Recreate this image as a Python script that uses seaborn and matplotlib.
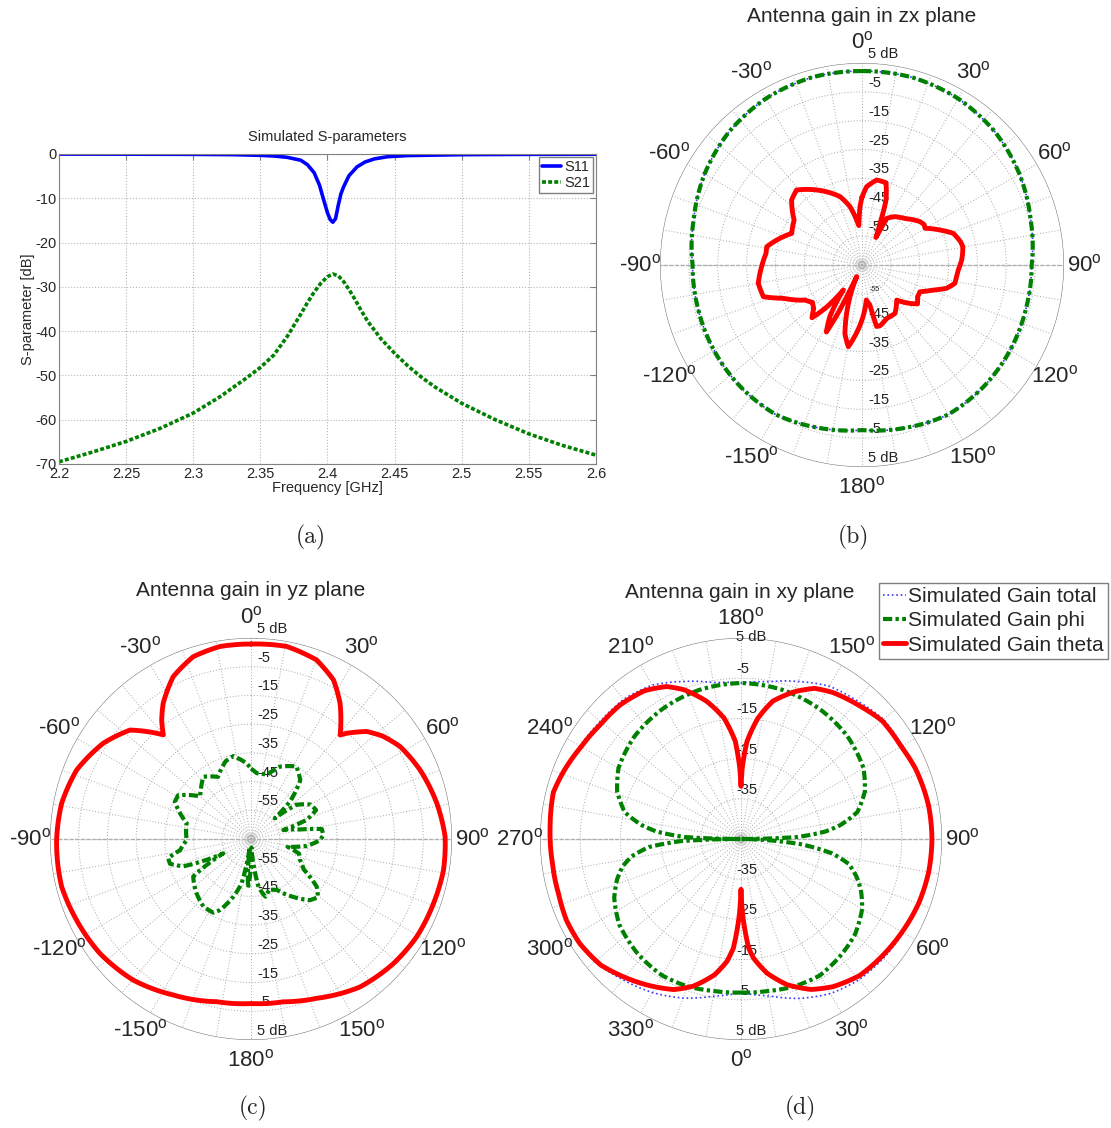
import numpy as np
import pandas as pd
import matplotlib
matplotlib.use("Agg")
import matplotlib.pyplot as plt
import matplotlib.transforms as mtransforms
import seaborn as sns

sns.set_style("white")
plt.rcParams["font.family"] = ["Liberation Sans", "DejaVu Sans"]
plt.rcParams["mathtext.fontset"] = "custom"
plt.rcParams["mathtext.rm"] = "Liberation Sans"
plt.rcParams["mathtext.it"] = "Liberation Sans"
plt.rcParams["mathtext.bf"] = "Liberation Sans:bold"
plt.rcParams["axes.unicode_minus"] = False

# ---------------- (a) S-parameters ----------------
FREQ_S11 = [2.2, 2.25, 2.3, 2.33, 2.35, 2.36, 2.37, 2.38, 2.385, 2.39, 2.394, 2.397,
            2.4, 2.402, 2.404, 2.406, 2.408, 2.41, 2.412, 2.416, 2.422, 2.428, 2.435,
            2.445, 2.46, 2.5, 2.55, 2.6]
S11_DB = [-0.02, -0.04, -0.08, -0.15, -0.3, -0.45, -0.75, -1.4, -2.4, -4.2, -7.0, -10.2,
          -13.3, -14.8, -15.4, -14.6, -11.6, -9.0, -7.4, -4.9, -2.9, -1.8, -1.1,
          -0.6, -0.35, -0.15, -0.08, -0.05]

FREQ_S21 = [2.2, 2.225, 2.25, 2.275, 2.3, 2.32, 2.34, 2.35, 2.36, 2.37, 2.38, 2.385,
            2.39, 2.395, 2.4, 2.404, 2.408, 2.412, 2.416, 2.42, 2.425, 2.43, 2.44,
            2.45, 2.46, 2.47, 2.48, 2.5, 2.525, 2.55, 2.575, 2.6]
S21_DB = [-69.5, -67.3, -64.9, -62.0, -58.5, -54.8, -50.5, -48.2, -45.4, -41.2, -36.2, -33.6,
          -31.2, -29.2, -27.7, -27.1, -27.5, -28.8, -30.6, -32.6, -35.3, -37.8, -41.8,
          -45.0, -47.9, -50.4, -52.6, -56.3, -60.0, -63.2, -65.8, -68.0]

FREQ_TICKS = [2.2, 2.25, 2.3, 2.35, 2.4, 2.45, 2.5, 2.55, 2.6]
FREQ_TICK_LABELS = ["2.2", "2.25", "2.3", "2.35", "2.4", "2.45", "2.5", "2.55", "2.6"]
DB_TICKS = [0, -10, -20, -30, -40, -50, -60, -70]

# ---------------- (b) zx plane (angle clockwise from top) ----------------
ZX_THETA_ANG = [0, 3.4, 9.8, 16.3, 20.3, 23.4, 26.8, 27.9, 34.3, 42.7, 53.2, 57, 59.8,
                65.8, 70.9, 76.7, 79.7, 83.4, 87.1, 93, 97, 101.2, 105.4, 109.3, 114.7,
                120, 125, 130, 135.3, 140, 145.7, 155.2, 163.6, 166.6, 168.7, 173, 180,
                185, 189.5, 194, 199, 204.6, 206.5, 208, 212, 216.7, 220, 223.5, 228,
                233, 238.4, 247, 252.2, 260, 269, 276.9, 280.9, 286.3, 294.2, 303.5,
                312.7, 318.9, 328.8, 342.2, 348.4, 353.2, 355.5, 358, 360]
ZX_THETA_DB = [-41.5, -37.8, -35.1, -35.3, -41.0, -49.3, -54.3, -46.7, -44.7, -43.1, -39.9, -39.3, -39.7,
               -35.4, -31.5, -29.9, -29.5, -29.9, -30.4, -31.6, -32.0, -32.2, -34.6, -38.8, -42.9,
               -42.8, -41.5, -44.5, -47.9, -46.5, -44.7, -44.6, -43.0, -43.1, -50.9, -52.8, -46.0,
               -41.0, -36.3, -40.5, -50.0, -60.6, -46.0, -38.7, -44.0, -54.2, -46.0, -39.8, -42.5,
               -43.5, -41.8, -35.5, -29.1, -28.5, -30.2, -31.5, -31.4, -34.2, -38.3, -36.8,
               -31.8, -30.5, -34.6, -40.1, -44.4, -49.3, -51.3, -44.8, -41.5]

ZX_PHI_ANG = [0, 15, 30, 45, 60, 75, 90, 105, 120, 135, 150, 165, 180,
              195, 210, 225, 240, 255, 270, 285, 300, 315, 330, 345, 360]
ZX_PHI_DB = [2.2, 2.3, 1.6, 0.2, -2.0, -4.5, -6.2, -6.2, -5.8, -5.4, -5.2, -6.6, -7.8,
             -6.6, -5.2, -5.4, -5.8, -6.2, -6.3, -4.6, -2.0, 0.2, 1.6, 2.3, 2.2]
# total gain lies on top of the phi component in this plane
ZX_TOTAL_DB = ZX_PHI_DB

# ---------------- (c) yz plane (angle clockwise from top) ----------------
YZ_THETA_ANG = [0, 10.5, 20.1, 27.4, 33.3, 37, 40.6, 42.2, 47.1, 52, 58.2, 67.8, 79.1,
                89.3, 99.2, 109.4, 120.5, 131.1, 143.6, 157.6, 168.8, 180, 191.9, 206.5,
                219.8, 232.9, 245.1, 255.9, 269.7, 280.7, 291.6, 303, 312, 318.2, 319.9,
                323.1, 327.1, 334.4, 342.4, 350.8, 360]
YZ_THETA_DB = [2.9, 3.2, 1.4, -2.6, -8.5, -13.0, -17.3, -15.3, -10.0, -6.8, -3.9, -1.4, 0.9,
               2.6, 2.9, 2.4, 2.0, 0.9, -1.0, -5.0, -7.2, -7.7, -7.1, -4.3,
               -1.0, 1.0, 2.0, 3.0, 2.7, 2.1, 0.3, -3.7, -8.3, -15.6, -17.6,
               -13.2, -8.7, -2.3, 1.6, 2.9, 2.9]
# total gain coincides with the theta component in this plane
YZ_TOTAL_DB = YZ_THETA_DB

YZ_PHI_ANG = [0, 5, 14, 22, 32, 40, 46, 49, 53, 60, 66, 71, 74.5, 79, 82, 87, 91, 97, 102,
              107, 113, 120, 126, 131, 136, 144, 153, 160, 166, 171, 177, 183.5, 188, 192,
              197, 203.6, 207, 215, 225, 237, 242.6, 248, 253, 257, 261, 269, 284, 290, 296,
              301, 310, 316, 322.6, 332, 342, 348, 356.7, 360]
YZ_PHI_DB = [-40.5, -42.0, -42.0, -37.8, -35.2, -38.3, -46.0, -54.0, -45.2, -41.0, -40.2, -44.5,
             -53.3, -47.6, -40.1, -39.8, -41.0, -45.4, -52.0, -47.5, -46.5, -43.8, -36.7, -34.1,
             -35.4, -40.1, -45.1, -46.4, -44.3, -48.0, -62.0, -48.0, -62.0, -49.2, -44.0, -38.0,
             -36.2, -36.2, -38.2, -41.0, -54.1, -39.6, -35.5, -35.4, -40.0, -42.6, -41.9, -38.7,
             -35.5, -35.4, -41.9, -40.0, -37.7, -40.5, -36.5, -35.5, -38.6, -40.5]

# ---------------- (d) xy plane (0 at bottom, counter-clockwise) ----------------
XY_THETA_ANG = [0, 1, 2, 4, 6, 11, 17.5, 25, 32, 41, 50, 59, 70, 80, 90, 100, 112, 120, 130,
                138, 148, 154, 160, 167, 172, 176.5, 179, 180, 181, 183.3, 188, 194, 201, 206,
                213, 222, 231, 240, 249, 256, 266, 277, 287, 295, 303, 312, 321, 328, 336, 342,
                349, 353.5, 356, 358, 359, 360]
XY_THETA_DB = [-32.4, -27.0, -23.7, -17.8, -15.2, -11.0, -7.0, -3.7, -1.7, 0.0, 0.6, 1.2, 2.0, 2.4,
               2.5, 2.4, 1.8, 1.0, 0.8, -0.6, -2.0, -3.3, -6.0, -9.8, -14.6, -20.7, -27.3, -31.9,
               -27.3, -20.7, -14.6, -9.7, -5.2, -2.8, -1.0, -0.1, 0.1, 0.9, 2.2, 3.1, 2.6, 2.3,
               2.4, 2.9, 2.8, 1.9, -0.3, -2.0, -4.0, -6.5, -10.6, -14.4, -17.8, -23.7, -27.0, -32.4]

XY_PHI_ANG = [0, 10, 20, 30, 40, 50, 60, 67, 72, 77, 81, 85, 88, 90, 92, 95, 98, 103, 111,
              120, 134, 149, 164, 180, 196, 211, 226, 240, 249, 257, 262, 265, 268, 270, 272,
              275, 279, 283, 288, 295, 305, 318, 330, 340, 350, 360]
XY_PHI_DB = [-6.8, -6.6, -6.0, -5.8, -6.8, -8.0, -10.2, -12.6, -14.8, -17.5, -22.0, -30.0, -40.0,
             -48.0, -31.0, -24.0, -20.0, -15.3, -12.0, -9.8, -8.2, -7.2, -6.5, -6.2, -6.5, -7.2,
             -8.2, -9.8, -12.0, -15.3, -20.0, -24.0, -31.0, -48.0, -30.0, -22.0, -17.5, -14.8,
             -12.6, -10.2, -8.0, -6.6, -5.8, -6.0, -6.6, -6.8]

XY_TOTAL_ANG = [0, 10, 20, 30, 40, 50, 60, 70, 80, 90, 100, 110, 120, 130, 140, 150, 160, 170,
                180, 190, 200, 210, 220, 230, 240, 250, 260, 270, 280, 290, 300, 310, 320, 330,
                340, 350, 360]
XY_TOTAL_DB = [-6.8, -5.4, -2.8, -0.6, 0.7, 1.2, 1.6, 2.1, 2.45, 2.5, 2.45, 2.1, 1.35, 1.3, -0.1,
               -1.1, -3.3, -5.3, -6.2, -5.5, -3.3, -0.8, 0.4, 0.6, 1.25, 2.55, 3.0, 2.5, 2.3,
               2.75, 3.1, 2.5, 0.7, -0.9, -2.9, -5.3, -6.8]

W, H = 1111, 1128
GRID_C = "#a8a8a8"
RED, GREEN, BLUE = "#ff0000", "#008000", "#3a3aff"
PHI_STYLE = (0, (2.2, 0.8, 0.8, 0.8))

fig = plt.figure(figsize=(W / 100, H / 100), dpi=100)

# ---------------------------------------------------------------- panel (a)
ax = fig.add_axes([59 / W, 1 - 464 / H, 537 / W, 310 / H])
sns.lineplot(x=FREQ_S11, y=S11_DB, ax=ax, color="#0000ff", lw=2.6, sort=False,
             estimator=None, label="S11")
sns.lineplot(x=FREQ_S21, y=S21_DB, ax=ax, color=GREEN, lw=2.6, sort=False,
             estimator=None, label="S21", linestyle=(0, (1.1, 0.6)))
ax.set_xlim(2.2, 2.6)
ax.set_ylim(-70, 0)
ax.set_xticks(FREQ_TICKS, FREQ_TICK_LABELS)
ax.set_yticks(DB_TICKS)
ax.grid(True, ls=":", color="#b8b8b8", lw=0.8)
for s in ax.spines.values():
    s.set_color("#808080")
    s.set_linewidth(0.8)
ax.tick_params(direction="in", length=4, color="#808080", labelsize=10.5, pad=2,
               top=True, right=True)
ax.set_xlabel("Frequency [GHz]", fontsize=10.5, labelpad=0)
ax.set_ylabel("S-parameter [dB]", fontsize=10.5, labelpad=0)
ax.legend(loc="upper right", fontsize=10.5, handlelength=1.3, handletextpad=0.2,
          borderpad=0.2, labelspacing=0.15, borderaxespad=0.2, fancybox=False,
          edgecolor="#808080", framealpha=1)
fig.text(327 / W, 1 - 137 / H, "Simulated S-parameters", fontsize=10.5,
         ha="center", va="center")


# ---------------------------------------------------------------- polar panels
def polar_axes(cx, cy, R):
    return fig.add_axes([(cx - R) / W, 1 - (cy + R) / H, 2 * R / W, 2 * R / H],
                        projection="polar")


def dress_polar(ax, rmin, zero, direction, labels, tiny_lower=False, lab_dx=6, top_dy=9):
    ax.set_theta_zero_location(zero)
    ax.set_theta_direction(direction)
    ax.grid(False)
    ax.set_xticks([])
    ax.set_yticks([])
    ax.spines["polar"].set_visible(False)
    full = np.linspace(0, 2 * np.pi, 361)
    rings = list(range(rmin + 10, 5, 10))
    for v in rings:
        ax.plot(full, np.full_like(full, v), ls=(0, (1, 2)), color=GRID_C, lw=0.7, zorder=1)
    for f in (0.006, 0.012, 0.018, 0.024):
        ax.plot(full, np.full_like(full, rmin + f * (5 - rmin)), color="#c8c8c8", lw=0.5, zorder=1)
    ax.plot(full, np.full_like(full, 5.0), color="#7a7a7a", lw=0.8, zorder=1)
    for a in range(0, 360, 10):
        ax.plot([np.deg2rad(a)] * 2, [rmin, 5], ls=(0, (1, 2)), color=GRID_C, lw=0.7, zorder=1)
    for a in (90, 270):
        ax.plot([np.deg2rad(a)] * 2, [rmin, 5], ls=(0, (3, 1)), color="#b0b0b0", lw=1.0, zorder=1)
    ax.set_ylim(rmin, 5)

    r_lab = rmin + 1.1 * (5 - rmin)
    for a, s in zip(range(0, 360, 30), labels):
        ax.text(np.deg2rad(a), r_lab, s + r"$^{\mathregular{o}}$", fontsize=16,
                ha="center", va="center")

    top = 0.0 if zero == "N" else np.pi
    bottom = np.pi - top
    off = mtransforms.offset_copy(ax.transData, fig=fig, x=lab_dx, y=9, units="dots")
    off_top = mtransforms.offset_copy(ax.transData, fig=fig, x=lab_dx, y=top_dy, units="dots")
    for v in [5] + rings[::-1]:
        s = "5 dB" if v == 5 else str(v)
        ax.text(top, v, s, fontsize=10.5, ha="left", va="center",
                transform=off_top if v == 5 else off, color="#222222", zorder=3)
        if tiny_lower and v == rings[0]:
            off2 = mtransforms.offset_copy(ax.transData, fig=fig, x=lab_dx + 2, y=4, units="dots")
            ax.text(bottom, v, s, fontsize=5, ha="left", va="center", transform=off2,
                    color="#222222", zorder=3)
        else:
            ax.text(bottom, v, s, fontsize=10.5, ha="left", va="center", transform=off,
                    color="#222222", zorder=3)


def curve(ax, ang, db, rmin, **kw):
    sns.lineplot(x=np.deg2rad(ang), y=np.maximum(np.asarray(db, float), rmin), ax=ax,
                 sort=False, estimator=None, **kw)
    ln = ax.lines[-1]
    # draw each segment as a polar arc instead of a straight chord
    ln.get_path()._interpolation_steps = 40
    return ln


LAB_SIGNED = ["0", "30", "60", "90", "120", "150", "180", "-150", "-120", "-90", "-60", "-30"]
LAB_PLAIN = ["0", "30", "60", "90", "120", "150", "180", "210", "240", "270", "300", "330"]

# (b)
axb = polar_axes(862, 265, 202)
curve(axb, ZX_PHI_ANG, ZX_TOTAL_DB, -65, color=BLUE, lw=1.2, linestyle=":", zorder=4)
curve(axb, ZX_PHI_ANG, ZX_PHI_DB, -65, color=GREEN, lw=3.0, linestyle=PHI_STYLE, zorder=5)
curve(axb, ZX_THETA_ANG, ZX_THETA_DB, -65, color=RED, lw=3.5, zorder=6)
dress_polar(axb, -65, "N", -1, LAB_SIGNED, tiny_lower=True)
fig.text(862 / W, 1 - 17 / H, "Antenna gain in zx plane", fontsize=15, ha="center", va="center")

# (c)
axc = polar_axes(251, 839, 201)
curve(axc, YZ_THETA_ANG, YZ_TOTAL_DB, -65, color=BLUE, lw=1.2, linestyle=":", zorder=4)
curve(axc, YZ_PHI_ANG, YZ_PHI_DB, -65, color=GREEN, lw=3.0, linestyle=PHI_STYLE, zorder=5)
curve(axc, YZ_THETA_ANG, YZ_THETA_DB, -65, color=RED, lw=3.5, zorder=6)
dress_polar(axc, -65, "N", -1, LAB_SIGNED)
fig.text(251 / W, 1 - 591 / H, "Antenna gain in yz plane", fontsize=15, ha="center", va="center")

# (d)
axd = polar_axes(741, 839, 201)
h_tot = curve(axd, XY_TOTAL_ANG, XY_TOTAL_DB, -45, color=BLUE, lw=1.2, linestyle=":", zorder=4)
h_phi = curve(axd, XY_PHI_ANG, XY_PHI_DB, -45, color=GREEN, lw=3.0, linestyle=PHI_STYLE, zorder=5)
h_th = curve(axd, XY_THETA_ANG, XY_THETA_DB, -45, color=RED, lw=3.5, zorder=6)
dress_polar(axd, -45, "S", 1, LAB_PLAIN, lab_dx=-5, top_dy=1)
fig.text(740 / W, 1 - 592 / H, "Antenna gain in xy plane", fontsize=15, ha="center", va="center")

fig.legend([h_tot, h_phi, h_th],
           ["Simulated Gain total", "Simulated Gain phi", "Simulated Gain theta"],
           loc="upper right", bbox_to_anchor=(1108 / W, 1 - 583 / H),
           bbox_transform=fig.transFigure, fontsize=15, handlelength=1.1,
           handletextpad=0.1, borderpad=0.2, labelspacing=0.25, borderaxespad=0,
           fancybox=False, edgecolor="#808080", framealpha=1)

# captions
for x, y, s in [(311, 537, "(a)"), (853, 537, "(b)"), (253, 1108, "(c)"), (800, 1108, "(d)")]:
    fig.text(x / W, 1 - y / H, s, family="cmr10", fontsize=17, ha="center", va="center")

fig.savefig("out.png", dpi=100)
